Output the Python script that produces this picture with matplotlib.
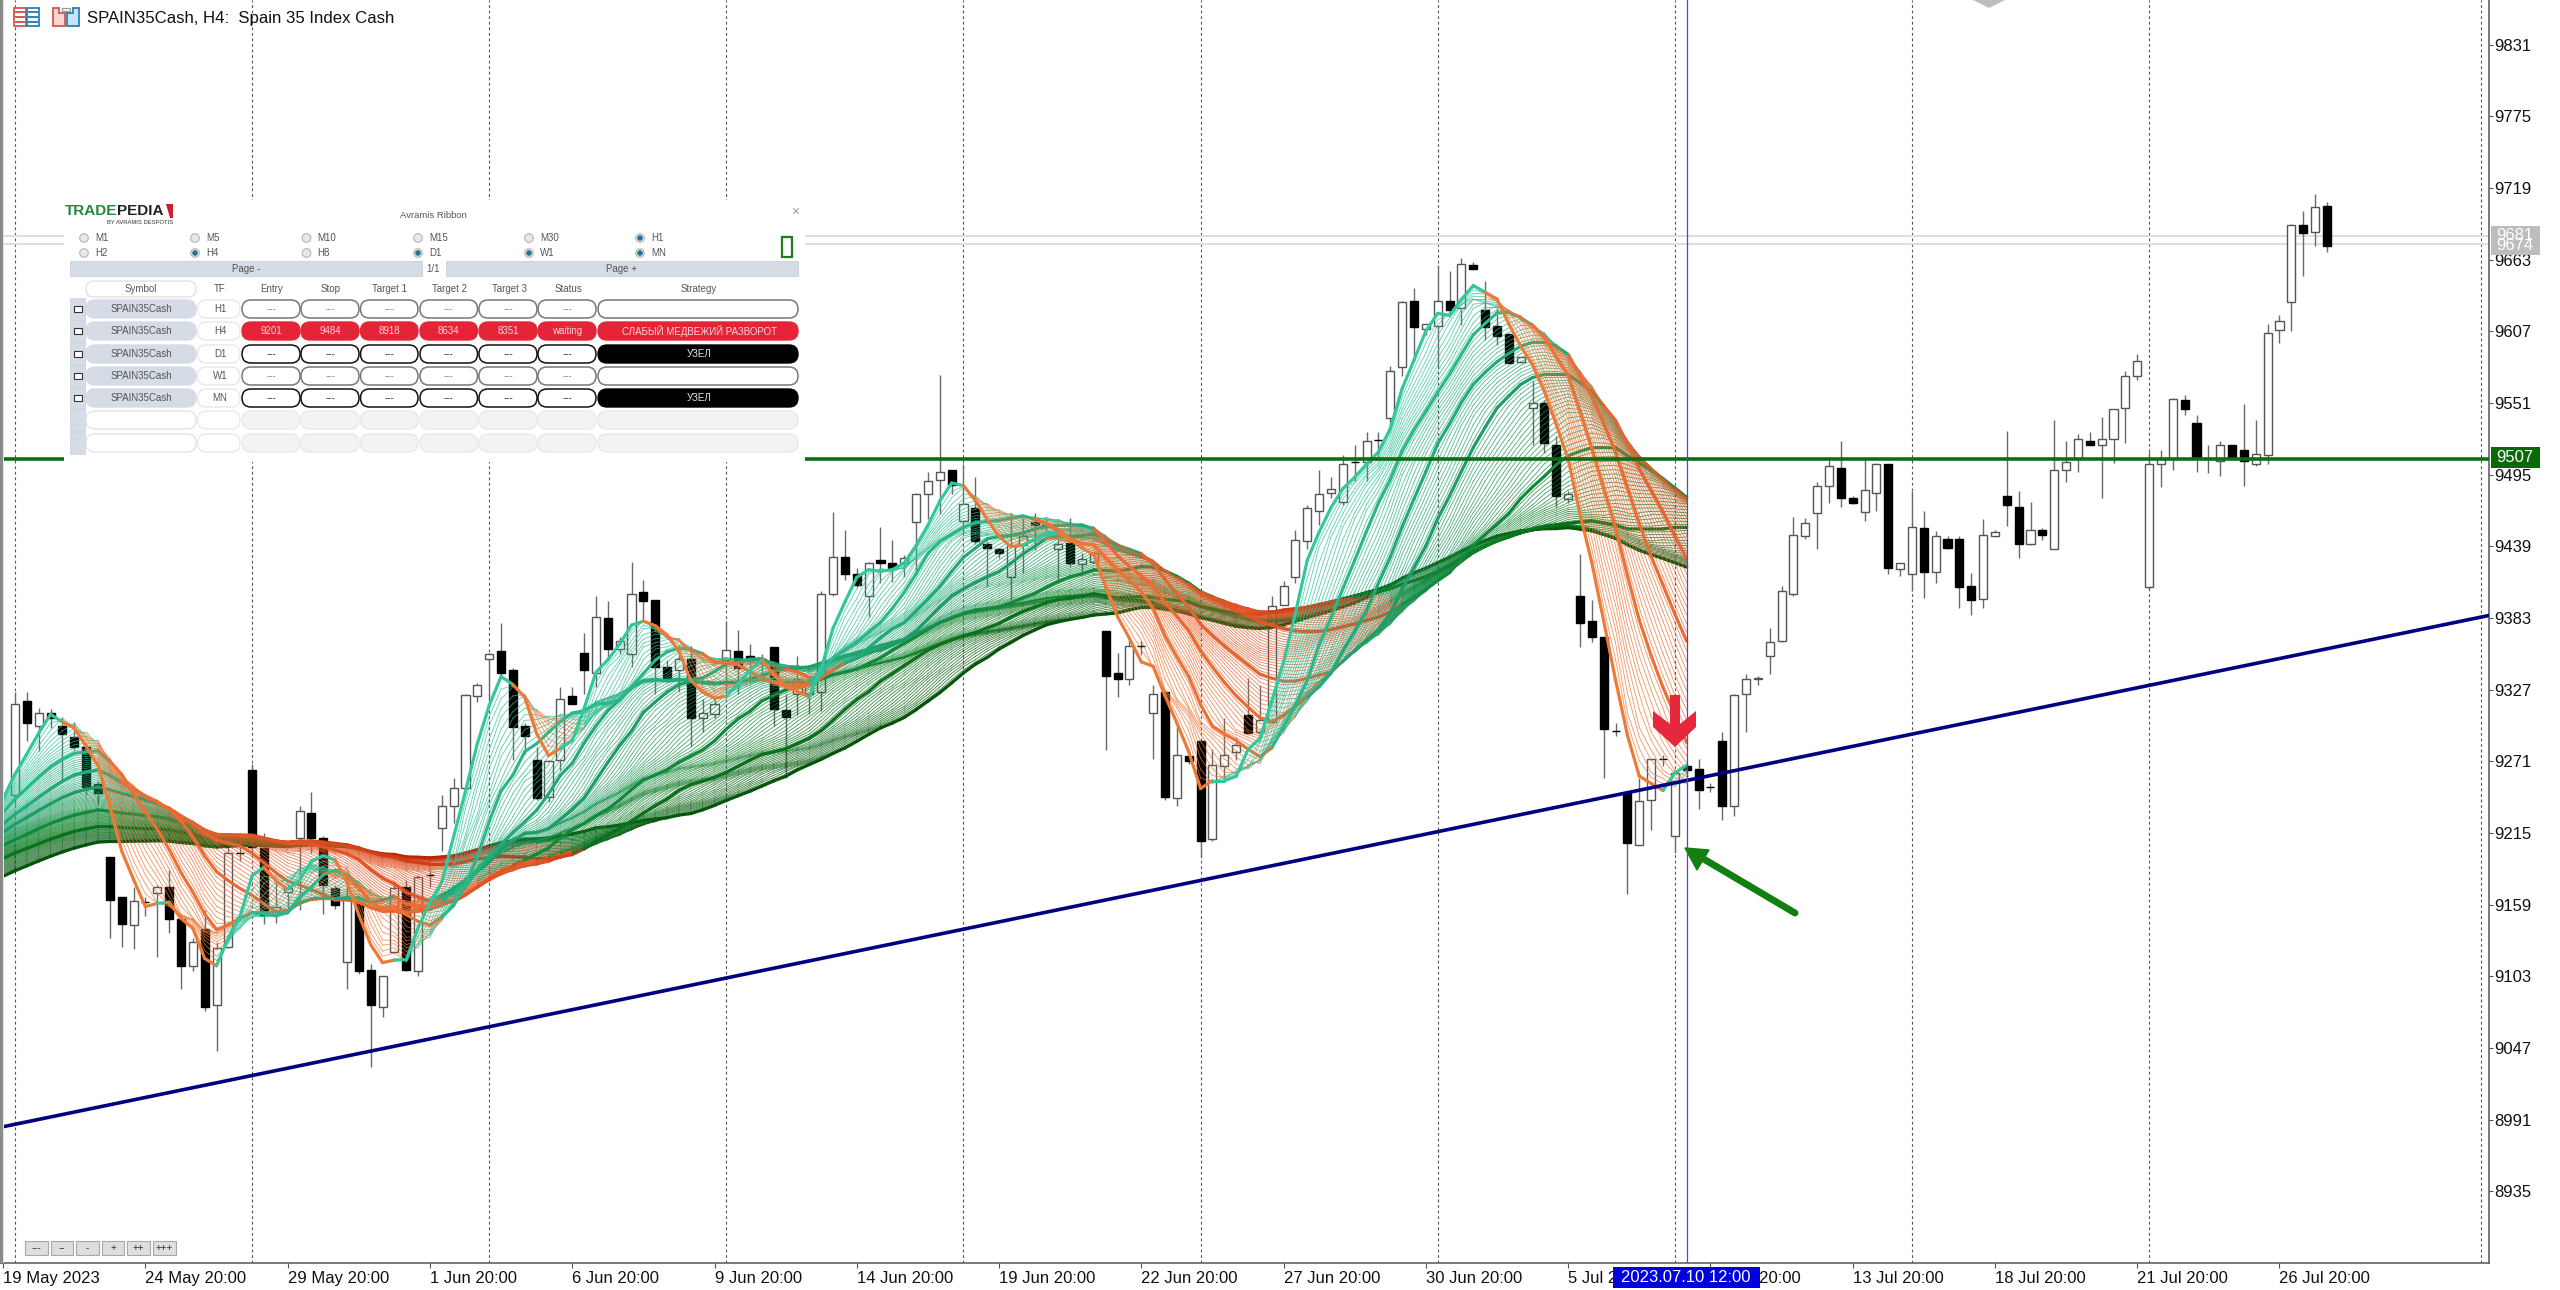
import numpy as np
import matplotlib
matplotlib.use('Agg')
import matplotlib.pyplot as plt
from matplotlib.collections import LineCollection
from matplotlib.patches import FancyBboxPatch, Rectangle, Polygon, Circle

plt.rcParams['font.family'] = ['Liberation Sans', 'DejaVu Sans']

# candles, one per H4 bar
opens = [9245, 9318, 9299, 9309, 9299, 9290, 9282, 9253, 9196, 9165, 9143, 9161, 9168, 9173, 9148, 9111, 9140, 9081, 9126, 9199,
         9264, 9203, 9152, 9169, 9211, 9231, 9211, 9172, 9114, 9160, 9108, 9079, 9122, 9173, 9107, 9182, 9219, 9236, 9250, 9322,
         9351, 9357, 9342, 9299, 9272, 9243, 9272, 9322, 9356, 9340, 9383, 9359, 9355, 9403, 9397, 9345, 9342, 9351, 9305, 9308,
         9350, 9357, 9353, 9351, 9360, 9311, 9324, 9324, 9325, 9402, 9431, 9417, 9400, 9428, 9426, 9426, 9458, 9480, 9491, 9499,
         9459, 9469, 9441, 9437, 9415, 9440, 9458, 9456, 9437, 9442, 9425, 9427, 9373, 9340, 9335, 9361, 9309, 9325, 9242, 9275,
         9287, 9210, 9267, 9278, 9307, 9294, 9302, 9393, 9415, 9443, 9467, 9481, 9474, 9505, 9505, 9522, 9539, 9579, 9631, 9609,
         9611, 9631, 9625, 9659, 9624, 9611, 9605, 9583, 9547, 9551, 9518, 9476, 9400, 9381, 9368, 9295, 9246, 9206, 9241, 9273,
         9213, 9267, 9265, 9251, 9287, 9236, 9324, 9335, 9353, 9365, 9402, 9447, 9465, 9486, 9500, 9477, 9466, 9481, 9503, 9421,
         9417, 9453, 9419, 9445, 9445, 9408, 9398, 9447, 9478, 9470, 9441, 9452, 9437, 9499, 9507, 9521, 9518, 9523, 9547, 9572,
         9407, 9503, 9508, 9553, 9535, 9507, 9506, 9518, 9514, 9503, 9510, 9608, 9630, 9690, 9685, 9705]
highs = [9325, 9325, 9313, 9312, 9306, 9302, 9285, 9256, 9196, 9165, 9173, 9165, 9174, 9186, 9148, 9133, 9155, 9130, 9206, 9207,
         9269, 9215, 9180, 9174, 9236, 9247, 9213, 9174, 9183, 9160, 9113, 9103, 9177, 9178, 9182, 9185, 9245, 9258, 9324, 9332,
         9356, 9379, 9344, 9301, 9282, 9272, 9329, 9329, 9371, 9400, 9396, 9368, 9427, 9413, 9397, 9350, 9355, 9361, 9320, 9319,
         9381, 9374, 9363, 9355, 9360, 9324, 9353, 9337, 9404, 9466, 9452, 9422, 9427, 9454, 9444, 9432, 9481, 9497, 9573, 9499,
         9503, 9493, 9443, 9438, 9465, 9461, 9465, 9460, 9445, 9461, 9434, 9435, 9373, 9356, 9366, 9365, 9331, 9325, 9301, 9275,
         9287, 9281, 9305, 9289, 9336, 9331, 9400, 9412, 9452, 9471, 9499, 9493, 9510, 9518, 9528, 9528, 9580, 9631, 9641, 9613,
         9659, 9654, 9664, 9661, 9646, 9625, 9605, 9587, 9568, 9553, 9525, 9482, 9433, 9397, 9368, 9301, 9247, 9258, 9273, 9276,
         9264, 9269, 9273, 9254, 9294, 9324, 9339, 9338, 9375, 9408, 9462, 9461, 9489, 9509, 9521, 9478, 9508, 9504, 9503, 9426,
         9482, 9467, 9451, 9447, 9447, 9418, 9460, 9452, 9529, 9482, 9474, 9453, 9538, 9521, 9527, 9528, 9540, 9546, 9576, 9589,
         9513, 9514, 9555, 9557, 9542, 9518, 9521, 9518, 9550, 9538, 9613, 9620, 9691, 9701, 9714, 9708]
lows = [9238, 9287, 9279, 9297, 9256, 9280, 9245, 9237, 9133, 9126, 9124, 9150, 9118, 9137, 9093, 9107, 9076, 9045, 9125, 9193,
        9201, 9144, 9145, 9154, 9155, 9199, 9152, 9156, 9093, 9105, 9032, 9071, 9122, 9107, 9103, 9173, 9201, 9223, 9249, 9317,
        9319, 9338, 9272, 9277, 9241, 9239, 9264, 9316, 9324, 9329, 9350, 9355, 9345, 9380, 9324, 9335, 9325, 9283, 9294, 9305,
        9321, 9324, 9332, 9337, 9299, 9258, 9307, 9308, 9310, 9400, 9413, 9407, 9384, 9410, 9411, 9415, 9419, 9460, 9464, 9480,
        9450, 9441, 9408, 9430, 9398, 9418, 9436, 9449, 9413, 9424, 9418, 9426, 9280, 9321, 9331, 9354, 9273, 9241, 9236, 9269,
        9196, 9209, 9258, 9272, 9293, 9293, 9301, 9393, 9410, 9437, 9456, 9477, 9471, 9490, 9490, 9509, 9534, 9572, 9587, 9604,
        9579, 9622, 9612, 9656, 9600, 9596, 9582, 9582, 9518, 9512, 9470, 9473, 9360, 9364, 9258, 9291, 9167, 9206, 9217, 9267,
        9199, 9259, 9234, 9247, 9225, 9228, 9294, 9331, 9339, 9364, 9400, 9445, 9437, 9473, 9470, 9472, 9459, 9467, 9417, 9416,
        9404, 9399, 9410, 9437, 9391, 9385, 9391, 9446, 9455, 9430, 9440, 9444, 9437, 9489, 9497, 9518, 9477, 9504, 9520, 9569,
        9406, 9485, 9499, 9542, 9497, 9496, 9494, 9508, 9486, 9502, 9503, 9598, 9607, 9650, 9674, 9669]
closes = [9316, 9301, 9309, 9305, 9292, 9282, 9251, 9246, 9163, 9144, 9162, 9161, 9173, 9148, 9111, 9130, 9079, 9125, 9199, 9199,
          9204, 9151, 9157, 9172, 9232, 9211, 9174, 9159, 9164, 9107, 9081, 9103, 9172, 9108, 9181, 9182, 9236, 9250, 9323, 9331,
          9355, 9340, 9298, 9291, 9242, 9271, 9320, 9316, 9342, 9384, 9359, 9365, 9402, 9396, 9345, 9336, 9351, 9305, 9309, 9316,
          9358, 9344, 9350, 9349, 9312, 9306, 9335, 9332, 9402, 9431, 9417, 9409, 9426, 9426, 9422, 9430, 9480, 9490, 9497, 9487,
          9472, 9443, 9438, 9434, 9440, 9447, 9456, 9455, 9441, 9426, 9429, 9434, 9338, 9335, 9361, 9361, 9324, 9243, 9276, 9271,
          9209, 9268, 9276, 9284, 9293, 9303, 9392, 9408, 9444, 9469, 9480, 9484, 9503, 9505, 9521, 9522, 9576, 9630, 9610, 9613,
          9631, 9624, 9660, 9656, 9610, 9603, 9582, 9587, 9551, 9520, 9478, 9480, 9379, 9368, 9296, 9295, 9207, 9240, 9273, 9273,
          9262, 9264, 9249, 9251, 9236, 9323, 9335, 9336, 9364, 9404, 9448, 9457, 9486, 9502, 9477, 9473, 9483, 9503, 9422, 9426,
          9454, 9419, 9447, 9438, 9407, 9397, 9448, 9450, 9471, 9441, 9452, 9448, 9499, 9505, 9523, 9518, 9523, 9546, 9572, 9584,
          9503, 9508, 9554, 9546, 9509, 9507, 9518, 9508, 9506, 9511, 9606, 9615, 9690, 9684, 9704, 9674]

# closes left of the visible window, estimated from where the ribbon lines enter at the left edge
closes_before = [9100, 9110, 9118, 9120, 9125, 9130, 9128, 9135, 9140, 9144,
                 9150, 9158, 9160, 9165, 9163, 9168, 9170, 9172, 9170, 9174,
                 9178, 9180, 9176, 9184, 9186, 9190, 9188, 9190, 9192, 9186,
                 9190, 9194, 9198, 9200, 9196, 9204, 9202, 9206, 9208, 9202,
                 9210, 9216, 9222, 9226, 9232, 9236, 9240, 9238, 9244, 9246]

price_ticks = [9831, 9775, 9719, 9663, 9607, 9551, 9495, 9439, 9383, 9327, 9271, 9215, 9159, 9103, 9047, 8991, 8935]
date_tick_bars = [-1, 11, 23, 35, 47, 59, 71, 83, 95, 107, 119, 131, 143, 155, 167, 179, 191]
date_labels = ['19 May 2023', '24 May 20:00', '29 May 20:00', '1 Jun 20:00', '6 Jun 20:00', '9 Jun 20:00', '14 Jun 20:00',
               '19 Jun 20:00', '22 Jun 20:00', '27 Jun 20:00', '30 Jun 20:00', '5 Jul 20:00', '10 Jul 20:00', '13 Jul 20:00',
               '18 Jul 20:00', '21 Jul 20:00', '26 Jul 20:00']
grid_bars = [0, 20, 40, 60, 80, 100, 120, 140, 160, 180, 208]

trend_bars = [-1.27, 208.67]
trend_prices = [8985, 9385]
support_price = 9507.5
bid_price = 9681.5
ask_price = 9675
signal_bar = 141

ribbon_periods = np.arange(4, 50.5, 0.5)
thick_periods = [4, 10, 15, 20, 30, 40, 50]

PX_W, PX_H = 2560, 1290
PLOT_R, PLOT_B = 2489, 1263
BAR_PX, BAR0_PX = 11.856, 15.0
PX_PER_POINT, PY_9719 = 1.2798, 188.0


def mix(stops, t):
    xs = np.linspace(0, 1, len(stops))
    return [np.interp(t, xs, [s[c] for s in stops]) for c in range(3)]


# the ribbon is a stack of simple moving averages of the closes, as the indicator builds it;
# half periods count the oldest bar at half weight
def ribbon_line(period):
    series = np.array(closes_before + closes[:signal_bar + 1], float)
    first = len(closes_before) - 1
    whole = int(period)
    part = period - whole
    out = []
    for i in range(first, len(series)):
        total = series[i - whole + 1:i + 1].sum()
        if part:
            total += part * series[i - whole]
        out.append(total / period)
    return np.array(out)


UP_STOPS = [(0.20, 0.78, 0.62), (0.12, 0.62, 0.42), (0.05, 0.50, 0.15), (0.02, 0.33, 0.04)]
DOWN_STOPS = [(0.93, 0.48, 0.22), (0.90, 0.40, 0.20), (0.87, 0.30, 0.12), (0.72, 0.13, 0.03)]

fig = plt.figure(figsize=(PX_W / 100, PX_H / 100), dpi=100)
ax = fig.add_axes([0, 1 - PLOT_B / PX_H, PLOT_R / PX_W, PLOT_B / PX_H])
ax.set_xlim(-BAR0_PX / BAR_PX, (PLOT_R - BAR0_PX) / BAR_PX)
ax.set_ylim(9719 - (PLOT_B - PY_9719) / PX_PER_POINT, 9719 + PY_9719 / PX_PER_POINT)

for b in grid_bars:
    ax.axvline(b, color='#555555', lw=0.8, ls=(0, (2.5, 2.5)), zorder=1)

opens_a, closes_a = np.array(opens, float), np.array(closes, float)
bars = np.arange(len(closes))
is_up = closes_a > opens_a
ax.vlines(bars, lows, highs, color='#6a6a6a', lw=1.0, zorder=2)
ax.bar(bars[is_up], (closes_a - opens_a)[is_up], bottom=opens_a[is_up], width=0.68,
       facecolor='white', edgecolor='#555555', lw=1.0, zorder=2.5)
ax.bar(bars[~is_up], (closes_a - opens_a)[~is_up], bottom=opens_a[~is_up], width=0.68,
       facecolor='black', edgecolor='black', lw=1.0, zorder=2.5)

for period in ribbon_periods[::-1]:
    line = ribbon_line(period)
    x_vals = np.arange(-1, len(line) - 1)
    t = (period - ribbon_periods[0]) / (ribbon_periods[-1] - ribbon_periods[0])
    thick = period in thick_periods
    pts = np.column_stack([x_vals, line])
    segs = np.stack([pts[:-1], pts[1:]], axis=1)
    # colour follows the change over half the period, so the slow lines turn late
    lag = max(1, int(period) // 2)
    rising = [line[i + 1] >= line[max(i + 1 - lag, 0)] for i in range(len(line) - 1)]
    up_c, down_c = mix(UP_STOPS, t), mix(DOWN_STOPS, t)
    alpha = 1.0 if thick else 0.72
    cols = [(*(up_c if r else down_c), alpha) for r in rising]
    ax.add_collection(LineCollection(segs, colors=cols, linewidths=2.3 if thick else 0.65,
                                     capstyle='round', zorder=3))

ax.axhline(bid_price, color='#dedede', lw=1.5, zorder=1.5)
ax.axhline(ask_price, color='#dedede', lw=1.5, zorder=1.5)
ax.axhline(support_price, color='#0b6e12', lw=2.6, zorder=4)
ax.plot(trend_bars, trend_prices, color='#000080', lw=2.6, zorder=4)
ax.axvline(signal_bar, color='#4a4ac8', lw=0.9, zorder=4)

for name in ['top', 'left']:
    ax.spines[name].set_visible(False)
for name in ['right', 'bottom']:
    ax.spines[name].set_color('#555555')
    ax.spines[name].set_linewidth(1.1)
ax.yaxis.tick_right()
ax.set_yticks(price_ticks)
ax.set_yticklabels([str(p) for p in price_ticks], fontsize=12, color='#111111')
ax.set_xticks(date_tick_bars)
ax.set_xticklabels(date_labels, fontsize=12, color='#111111', ha='left')
ax.tick_params(axis='y', length=3, width=0.8, pad=0.8, color='#555555')
ax.tick_params(axis='x', length=3.5, width=0.8, pad=2, color='#555555')

# overlay in pixels for the terminal furniture
ov = fig.add_axes([0, 0, 1, 1], zorder=5)
ov.set_xlim(0, PX_W)
ov.set_ylim(PX_H, 0)
ov.axis('off')
ov.patch.set_alpha(0)

ov.add_patch(Rectangle((0, 0), 2.5, PLOT_B, fc='#8a8a8a', ec='none'))
ov.add_patch(Rectangle((2.5, 0), 1.5, PLOT_B, fc='#e4e4e4', ec='none'))
ov.add_patch(Polygon([(1973, 0), (2005, 0), (1989, 8)], fc='#bdbdbd', ec='none'))


def pill(x0, x1, yc, fc, ec, lw=1.0, h=18):
    ov.add_patch(FancyBboxPatch((x0, yc - h / 2), x1 - x0, h, boxstyle=f'round,pad=0,rounding_size={h / 2}',
                                fc=fc, ec=ec, lw=lw, mutation_aspect=1))


def small(x, y, s, color='#555555', size=7.0, ha='center'):
    ov.text(x, y, s, fontsize=size, color=color, ha=ha, va='center')


# title bar icons and caption
ov.add_patch(Rectangle((14, 8), 12, 18, fc='white', ec='#d9534f', lw=1.3))
ov.add_patch(Rectangle((27, 8), 12, 18, fc='white', ec='#2f7fb5', lw=1.3))
for yy in (12, 17, 22):
    ov.plot([16, 24], [yy, yy], color='#d9534f', lw=1.4)
    ov.plot([29, 37], [yy, yy], color='#2f7fb5', lw=1.4)
ov.add_patch(Polygon([(53, 8), (59, 8), (59, 13), (65, 13), (65, 26), (53, 26)], fc='#fbd5cf', ec='#d9534f', lw=1.3))
ov.add_patch(Polygon([(79, 8), (73, 8), (73, 13), (67, 13), (67, 26), (79, 26)], fc='#c5e4f7', ec='#2f7fb5', lw=1.3))
ov.add_patch(Rectangle((62, 8), 8, 3, fc='white', ec='#999999', lw=0.9))
ov.text(87, 18, 'SPAIN35Cash, H4:  Spain 35 Index Cash', fontsize=12.1, color='#111111', va='center')

# right scale flags
ov.add_patch(Rectangle((2491, 226), 49, 21, fc='#bdbdbd', ec='none'))
ov.text(2515, 236, '9681', fontsize=12, color='white', ha='center', va='center')
ov.add_patch(Rectangle((2491, 234), 49, 21, fc='#bdbdbd', ec='none'))
ov.text(2515, 245, '9674', fontsize=12, color='white', ha='center', va='center')
ov.add_patch(Rectangle((2491, 447), 49, 21, fc='#0a6a0a', ec='none'))
ov.text(2515, 458, '9507', fontsize=12, color='white', ha='center', va='center')

# crosshair date
ov.add_patch(Rectangle((1613, 1267), 147, 21, fc='#0000e0', ec='none'))
ov.text(1686, 1277.5, '2023.07.10 12:00', fontsize=12, color='white', ha='center', va='center')

# signal arrows
ov.add_patch(Polygon([(1670, 695), (1680, 695), (1680, 724), (1696, 711), (1696, 727), (1675, 747), (1653, 727), (1653, 711), (1670, 724)],
                     fc='#e5283c', ec='none'))
ov.plot([1702, 1795], [858, 913], color='#118011', lw=5.0, solid_capstyle='round')
ov.add_patch(Polygon([(1685, 848), (1709, 850), (1697, 870)], fc='#118011', ec='#118011', lw=1))

# zoom buttons
for i, label in enumerate(['---', '--', '-', '+', '++', '+++']):
    x0 = 25 + i * 25.6
    ov.add_patch(Rectangle((x0, 1241), 22.5, 14, fc='#dedede', ec='#a8a8a8', lw=0.8))
    small(x0 + 11.2, 1248, label, color='#333333', size=7)

# trade panel
ov.add_patch(Rectangle((64, 200), 741, 262, fc='white', ec='none'))
ov.text(65, 211, 'TRADE', fontsize=11, fontweight='bold', color='#1f8a3c', va='center')
ov.text(117.5, 211, 'PEDIA', fontsize=11, fontweight='bold', color='#222222', va='center')
ov.add_patch(Polygon([(166, 204), (173, 204), (173, 218), (170, 218)], fc='#c8202c', ec='none'))
small(173, 223, 'BY AVRAMIS DESPOTIS', color='#333333', size=4.2, ha='right')
small(433, 216, 'Avramis Ribbon', size=6.8)
small(795, 212, '×', color='#999999', size=10)

radio_x = [84, 195, 306.5, 418, 529, 640]
radio_rows = [(238, ['M1', 'M5', 'M10', 'M15', 'M30', 'H1'], ['H1']),
              (253, ['H2', 'H4', 'H8', 'D1', 'W1', 'MN'], ['H4', 'D1', 'W1', 'MN'])]
for yy, names, on in radio_rows:
    for xx, name in zip(radio_x, names):
        checked = name in on
        ov.add_patch(Circle((xx, yy), 4.3, fc='#e8e8e8', ec='#b5b5b5', lw=0.8))
        if checked:
            ov.add_patch(Circle((xx, yy), 2.8, fc='#2a6f96', ec='none'))
        small(xx + 11, yy, name, ha='left')
ov.add_patch(Rectangle((782, 237), 10, 20, fc='white', ec='#1e7b1e', lw=1.6))

ov.add_patch(Rectangle((70, 261), 352, 15, fc='#d5dce6', ec='#c8d0da', lw=0.6))
ov.add_patch(Rectangle((446, 261), 352, 15, fc='#d5dce6', ec='#c8d0da', lw=0.6))
small(246, 268.5, 'Page -')
small(433, 268.5, '1/1')
small(622, 268.5, 'Page +')

pill(86, 196, 289, 'white', '#e2e2e2', h=16)
small(141, 289, 'Symbol')
cell_spans = [(242, 300), (301, 359), (360.5, 418), (420, 477.5), (479, 537), (538, 596)]
for xc, name in zip([220, 272, 331, 390, 449, 509, 568, 699], ['TF', 'Entry', 'Stop', 'Target 1', 'Target 2', 'Target 3', 'Status', 'Strategy']):
    small(xc, 289, name)

row_y = [309, 331, 354, 376, 398, 420, 443]
tf_names = ['H1', 'H4', 'D1', 'W1', 'MN', '', '']
short_values = ['9201', '9484', '8918', '8634', '8351', 'waiting']
for r, yy in enumerate(row_y):
    ov.add_patch(Rectangle((70, yy - 11), 15, 22, fc='#d5dce6', ec='#c8d0da', lw=0.5))
    filled = r < 5
    if filled:
        ov.add_patch(Rectangle((74, yy - 3), 8, 6, fc='white', ec='#333333', lw=0.8))
    pill(86, 196, yy, '#d5dce6' if filled else 'white', '#d5dce6' if filled else '#e4e4e4')
    pill(197.5, 240, yy, 'white', '#e8e8e8')
    if filled:
        small(141, yy, 'SPAIN35Cash')
        small(220, yy, tf_names[r])
    for c, (x0, x1) in enumerate(cell_spans):
        xc = (x0 + x1) / 2
        if r == 1:
            pill(x0, x1, yy, '#e52437', '#e52437')
            small(xc, yy, short_values[c], color='#f6d5d8')
        elif r in (0, 3):
            pill(x0, x1, yy, 'white', '#777777', lw=1.1)
            small(xc, yy, '---', color='#888888')
        elif r in (2, 4):
            pill(x0, x1, yy, 'white', '#111111', lw=1.1)
            small(xc, yy, '---', color='#333333')
        else:
            pill(x0, x1, yy, '#f3f3f3', '#e8e8e8')
    if r == 1:
        pill(598, 798, yy, '#e52437', '#e52437')
        small(699, yy, 'СЛАБЫЙ МЕДВЕЖИЙ РАЗВОРОТ', color='#f6d5d8')
    elif r in (0, 3):
        pill(598, 798, yy, 'white', '#777777', lw=1.1)
    elif r in (2, 4):
        pill(598, 798, yy, 'black', 'black')
        small(699, yy, 'УЗЕЛ', color='#e8e8e8')
    else:
        pill(598, 798, yy, '#f3f3f3', '#e8e8e8')

fig.savefig('out.png', dpi=100, facecolor='white')
